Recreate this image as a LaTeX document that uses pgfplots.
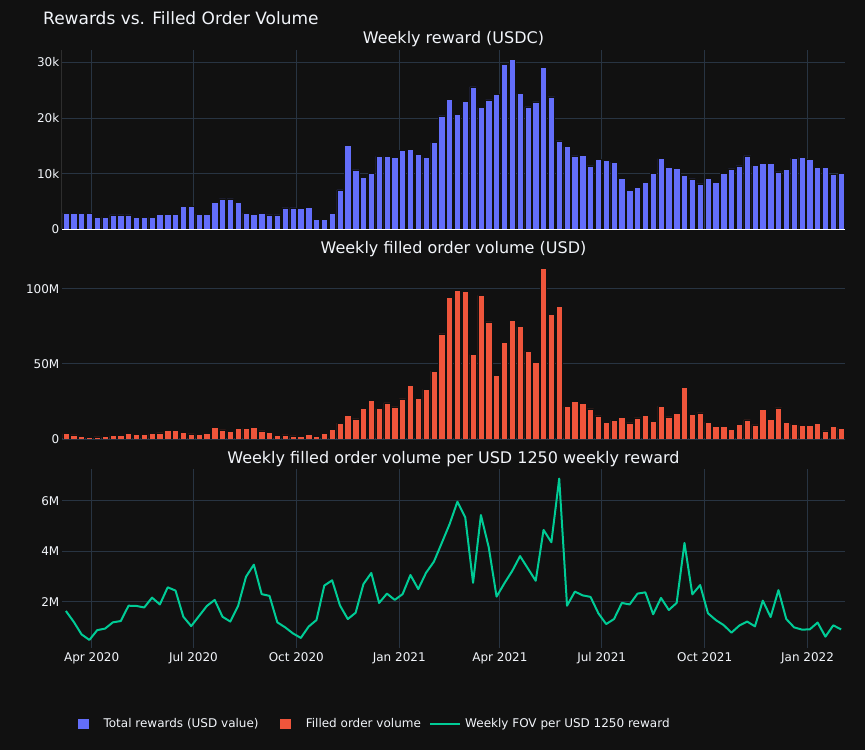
\documentclass[border=0pt]{standalone}
\usepackage{fontspec}
\setmainfont{DejaVu Sans}
\usepackage{pgfplots}
\usepackage{pgfplotstable}
\pgfplotsset{compat=1.18}
\definecolor{bg}{HTML}{111111}
\definecolor{gridc}{HTML}{283442}
\definecolor{txt}{HTML}{F2F5FA}
\definecolor{cblue}{HTML}{636EFA}
\definecolor{cred}{HTML}{EF553B}
\definecolor{cgreen}{HTML}{00CC96}

% d = days since 2020-01-01 (weekly, Mondays), r = reward (k USDC), v = volume (M USD), f = FOV per 1250 USD reward (M)
\pgfplotstableread{
d r v f
68 2.9 3.6 1.63
75 2.9 2.7 1.20
82 2.9 1.6 0.70
89 2.9 1.0 0.48
96 2.15 1.4 0.87
103 2.15 1.6 0.93
110 2.6 2.3 1.18
117 2.6 2.5 1.23
124 2.6 3.6 1.84
131 2.15 3.0 1.83
138 2.15 3.0 1.77
145 2.15 3.6 2.16
152 2.75 4.1 1.89
159 2.75 5.6 2.57
166 2.75 5.6 2.44
173 4.1 4.5 1.40
180 4.1 3.4 1.03
187 2.75 3.0 1.43
194 2.75 3.9 1.83
201 4.8 7.9 2.07
208 5.45 6.1 1.40
215 5.45 5.2 1.21
222 4.9 7.0 1.84
229 2.9 7.0 2.99
236 2.75 7.9 3.47
243 2.9 5.4 2.30
250 2.6 4.5 2.23
257 2.6 2.3 1.18
264 3.85 2.7 0.98
271 3.85 2.1 0.74
278 3.8 1.6 0.56
285 3.9 3.0 1.01
292 1.8 1.6 1.27
299 1.8 3.9 2.64
306 2.8 6.5 2.85
313 7.1 10.5 1.85
320 15.1 15.9 1.31
327 10.7 13.4 1.56
334 9.4 20.5 2.70
341 10.1 25.6 3.14
348 13.1 20.3 1.95
355 13.1 24.1 2.32
362 12.9 21.4 2.07
369 14.25 26.7 2.30
376 14.4 35.6 3.06
383 13.5 27.0 2.50
390 12.95 33.0 3.15
397 15.6 45.2 3.59
404 20.4 70.1 4.33
411 23.4 94.6 5.08
418 20.7 99.3 5.97
425 23.0 98.6 5.35
432 25.6 56.2 2.75
439 21.9 95.8 5.44
446 23.3 78.0 4.16
453 24.25 42.4 2.20
460 29.6 64.4 2.73
467 30.5 78.9 3.22
474 24.4 74.9 3.81
481 22.0 58.6 3.32
488 22.9 51.3 2.83
495 29.1 113.5 4.85
502 23.8 82.9 4.36
509 15.9 88.4 6.89
516 14.85 21.6 1.84
523 13.2 25.2 2.40
530 13.35 23.9 2.25
537 11.4 20.1 2.19
544 12.6 15.4 1.54
551 12.45 11.0 1.11
558 12.1 12.5 1.31
565 9.15 14.3 1.95
572 7.0 10.7 1.89
579 7.55 14.1 2.32
586 8.4 15.9 2.37
593 10.05 11.9 1.50
600 12.7 21.9 2.15
607 11.1 14.7 1.67
614 11.0 17.2 1.95
621 9.75 34.3 4.33
628 9.05 16.5 2.29
635 8.15 17.4 2.66
642 9.1 11.2 1.54
649 8.4 8.3 1.27
656 10.05 8.3 1.07
663 10.85 6.5 0.77
670 11.4 9.6 1.05
677 13.2 12.7 1.21
684 11.45 9.4 1.02
691 11.85 19.6 2.04
698 11.8 13.0 1.39
705 10.35 20.7 2.46
712 10.8 11.2 1.31
719 12.8 9.9 0.98
726 12.95 9.0 0.89
733 12.6 9.0 0.90
740 11.2 10.3 1.17
747 11.2 5.4 0.61
754 9.9 8.3 1.06
761 10.0 7.2 0.90
}\weekly

\pgfplotsset{
  panel/.style={
    scale only axis, width=783bp, height=179bp,
    anchor=south west,
    xmin=64.5, xmax=764.5,
    axis line style={draw=none},
    major tick length=0pt,
    tick style={draw=none},
    xtick={91,182,274,366,456,547,639,731},
    grid style={gridc, line width=1bp},
    ticklabel style={font=\fontsize{12bp}{14bp}\selectfont, text=txt},
    yticklabel style={anchor=east, inner sep=0pt, xshift=-2.5bp},
    xticklabel style={anchor=north, inner sep=0pt, yshift=-4bp},
  },
}

\begin{document}
\begin{tikzpicture}
\fill[bg] (0,0) rectangle (865bp,750bp);

% Panel 1: weekly reward
\begin{axis}[panel, at={(62bp,520.7bp)},
  ymin=0, ymax=32.2,
  ytick={0,10,20,30}, yticklabels={0,10k,20k,30k},
  xticklabels={},
  xmajorgrids, ymajorgrids,
]
\addplot[ybar, bar width=5.6, fill=cblue, draw=bg, line width=0.5bp] table[x=d, y=r] {\weekly};
% white axis lines (bottom and left), drawn over the bars
\draw[white, line width=1bp] (rel axis cs:0,0) -- (rel axis cs:1,0);
\draw[white, line width=1bp] (rel axis cs:0,0) -- (rel axis cs:0,1);
\end{axis}

% Panel 2: weekly filled order volume
\begin{axis}[panel, at={(62bp,311bp)},
  ymin=0, ymax=119.3,
  ytick={0,50,100}, yticklabels={0,50M,100M},
  xticklabels={},
  ymajorgrids,
  extra y ticks={0}, extra y tick labels={},
  extra y tick style={grid style={gridc, line width=2bp}},
]
\addplot[ybar, bar width=5.6, fill=cred, draw=bg, line width=0.5bp] table[x=d, y=v] {\weekly};
\end{axis}

% Panel 3: FOV per USD 1250 reward
\begin{axis}[panel, at={(62bp,102bp)},
  ymin=0.16, ymax=7.27,
  ytick={2,4,6}, yticklabels={2M,4M,6M},
  xticklabels={Apr 2020,Jul 2020,Oct 2020,Jan 2021,Apr 2021,Jul 2021,Oct 2021,Jan 2022},
  xmajorgrids, ymajorgrids,
  legend columns=3,
  legend style={at={(axis description cs:0.01954,-0.3927)}, anchor=north west,
    draw=none, fill=none, inner sep=0pt, outer sep=0pt,
    column sep=0pt,
    text=txt, font=\fontsize{12bp}{14bp}\selectfont,
    nodes={inner sep=0pt, text depth=0pt},
    cells={anchor=base west}},
]
\addlegendimage{legend image code/.code={
  \path[draw=none, fill=none] (0bp,0bp) rectangle (26bp,1bp);
  \path[fill=cblue, draw=bg, line width=0.5bp] (0bp,-1.55bp) rectangle (11.4bp,9.45bp);}}
\addlegendentry{Total rewards (USD value)}
\addlegendimage{legend image code/.code={
  \path[draw=none, fill=none] (0bp,0bp) rectangle (47.2bp,1bp);
  \path[fill=cred, draw=bg, line width=0.5bp] (20.9bp,-1.55bp) rectangle (32.5bp,9.45bp);}}
\addlegendentry{Filled order volume}
\addplot[cgreen, line width=2bp, line join=round, no marks,
  legend image code/.code={
    \path[draw=none, fill=none] (0bp,0bp) rectangle (44.3bp,1bp);
    \draw[cgreen, line width=2bp] (9.3bp,3.95bp) -- (38.8bp,3.95bp);}]
  table[x=d, y=f] {\weekly};
\addlegendentry{Weekly FOV per USD 1250 reward}
\end{axis}

\node[anchor=base west, inner sep=0pt, text=txt, font=\fontsize{17bp}{20bp}\selectfont] at (43bp,725bp) {Rewards vs. Filled Order Volume};
\node[anchor=base, inner sep=0pt, text=txt, font=\fontsize{16bp}{19bp}\selectfont] at (453.5bp,706bp) {Weekly reward (USDC)};
\node[anchor=base, inner sep=0pt, text=txt, font=\fontsize{16bp}{19bp}\selectfont] at (453.5bp,496bp) {Weekly filled order volume (USD)};
\node[anchor=base, inner sep=0pt, text=txt, font=\fontsize{16bp}{19bp}\selectfont] at (453.5bp,286.6bp) {Weekly filled order volume per USD 1250 weekly reward};

\pgfresetboundingbox
\path (0,0) rectangle (865bp,750bp);
\end{tikzpicture}
\end{document}
